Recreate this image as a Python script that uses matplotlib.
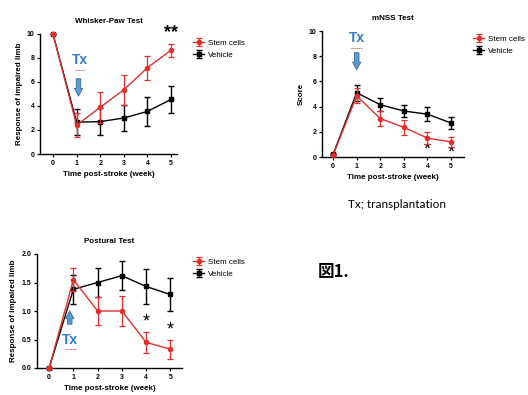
import numpy as np
import matplotlib
matplotlib.use("Agg")
import matplotlib.pyplot as plt
import matplotlib.transforms as mtransforms

plt.rcParams['font.family'] = ['Liberation Sans', 'DejaVu Sans']

weeks = [0, 1, 2, 3, 4, 5]

# Whisker-Paw test
wp_stem = [10, 2.4, 3.9, 5.35, 7.2, 8.65]
wp_stem_err = [0, 1.0, 1.3, 1.25, 1.0, 0.55]
wp_veh = [10, 2.65, 2.7, 3.0, 3.55, 4.55]
wp_veh_err = [0, 1.1, 1.1, 1.1, 1.2, 1.1]

# mNSS test
mn_stem = [0.15, 4.85, 3.05, 2.35, 1.5, 1.2]
mn_stem_err = [0, 0.6, 0.6, 0.6, 0.5, 0.4]
mn_veh = [0.2, 5.1, 4.15, 3.65, 3.4, 2.7]
mn_veh_err = [0, 0.65, 0.5, 0.45, 0.55, 0.45]

# Postural test
po_stem = [0, 1.55, 1.0, 1.0, 0.45, 0.33]
po_stem_err = [0, 0.2, 0.25, 0.26, 0.18, 0.17]
po_veh = [0, 1.38, 1.5, 1.62, 1.43, 1.29]
po_veh_err = [0, 0.26, 0.25, 0.26, 0.3, 0.29]

RED = "#e3302f"
BLUE_T = "#2f7fc4"
ARROW_FC = "#5b9bd5"
ARROW_EC = "#3a6a9a"

W, H = 528, 395
fig = plt.figure(figsize=(W / 100, H / 100), dpi=100)


def px_axes(left, right, bottom, top):
    return fig.add_axes([left / W, 1 - bottom / H, (right - left) / W, (bottom - top) / H])


def draw_panel(ax, title, ylabel, stem, stem_err, veh, veh_err, ylim, yticks, xlim, leg_xy):
    ax.errorbar(weeks, veh, yerr=veh_err, color="black", marker="s", ms=3.2,
                lw=1.0, elinewidth=1.0, capsize=2, capthick=1.0, clip_on=False,
                zorder=3, label="Vehicle")
    ax.errorbar(weeks, stem, yerr=stem_err, color=RED, marker="o", ms=3.0,
                lw=1.0, elinewidth=0.9, capsize=2, capthick=0.9, clip_on=False,
                zorder=4, label="Stem cells")
    ax.set_xlim(*xlim)
    ax.set_ylim(*ylim)
    ax.set_yticks(yticks)
    ax.set_xticks(weeks)
    for s in ("top", "right"):
        ax.spines[s].set_visible(False)
    for s in ("left", "bottom"):
        ax.spines[s].set_linewidth(1.0)
    ax.tick_params(labelsize=5, length=2.5, width=0.9, pad=1.5)
    for lab in ax.get_xticklabels() + ax.get_yticklabels():
        lab.set_fontweight("bold")
    ax.set_title(title, fontsize=5.8, fontweight="bold", pad=8)
    ax.set_xlabel("Time post-stroke (week)", fontsize=5.8, fontweight="bold", labelpad=3)
    ax.set_ylabel(ylabel, fontsize=5.8, fontweight="bold", labelpad=3)
    h, l = ax.get_legend_handles_labels()
    ax.legend(h[::-1], l[::-1], loc="upper left", bbox_to_anchor=(leg_xy[0] / W, 1 - leg_xy[1] / H),
              bbox_transform=fig.transFigure, frameon=False, fontsize=5.8,
              handlelength=1.4, handletextpad=0.5, labelspacing=0.6, borderpad=0,
              borderaxespad=0)


def tx_mark(ax, x, y, arrow_from, arrow_to):
    ax.text(x, y, "Tx", color=BLUE_T, fontsize=10, fontweight="bold", ha="center", va="center")
    off = mtransforms.ScaledTranslation(0, -7 / 72, fig.dpi_scale_trans)
    ax.plot([x - 0.22, x + 0.22], [y, y], transform=ax.transData + off, color=RED,
            lw=0.7, ls=(0, (1, 1)), clip_on=False)
    ax.annotate("", xy=arrow_to, xytext=arrow_from,
                arrowprops=dict(arrowstyle="simple,head_length=0.55,head_width=0.6,tail_width=0.33",
                                fc=ARROW_FC, ec=ARROW_EC, lw=0.6))


# Panel 1: Whisker-Paw
ax1 = px_axes(40, 177, 154, 34)
draw_panel(ax1, "Whisker-Paw Test", "Response of impaired limb", wp_stem, wp_stem_err,
           wp_veh, wp_veh_err, (0, 10), [0, 2, 4, 6, 8, 10], (-0.55, 5.25), (193, 39))
tx_mark(ax1, 1.15, 7.85, (1.08, 6.5), (1.08, 4.6))
ax1.text(5, 10.1, "**", fontsize=13, ha="center", va="center", fontweight="bold")

# Panel 2: mNSS
ax2 = px_axes(322, 464, 157, 31)
draw_panel(ax2, "mNSS Test", "Score", mn_stem, mn_stem_err, mn_veh, mn_veh_err,
           (0, 10), [0, 2, 4, 6, 8, 10], (-0.47, 5.55), (473, 35))
tx_mark(ax2, 1.0, 9.45, (1.0, 8.5), (1.0, 6.7))
for xi, yi in [(4, 0.55), (5, 0.3)]:
    ax2.text(xi, yi, "*", fontsize=13, ha="center", va="center")

# Panel 3: Postural
ax3 = px_axes(37, 182, 368, 254)
draw_panel(ax3, "Postural Test", "Response of impaired limb", po_stem, po_stem_err,
           po_veh, po_veh_err, (0, 2.0), [0, 0.5, 1.0, 1.5, 2.0], (-0.5, 5.48), (193, 258))
ax3.yaxis.set_major_formatter(matplotlib.ticker.FormatStrFormatter("%.1f"))
for lab in ax3.get_yticklabels():
    lab.set_fontweight("bold")
tx_mark(ax3, 0.87, 0.5, (0.85, 0.72), (0.85, 1.05))
for xi, yi in [(4, 0.8), (5, 0.67)]:
    ax3.text(xi, yi, "*", fontsize=13, ha="center", va="center")

# Footnote and figure label
fig.text(397 / W, 1 - 204 / H, "Tx; transplantation", fontsize=8.5, ha="center", va="center",
         family=["Lato", "DejaVu Sans"])
fig.text(318 / W, 1 - 272 / H, "図1.", fontsize=12, fontweight="bold", ha="left", va="center",
         family=["Noto Sans CJK JP", "DejaVu Sans"])

fig.savefig("out.png", dpi=100)
